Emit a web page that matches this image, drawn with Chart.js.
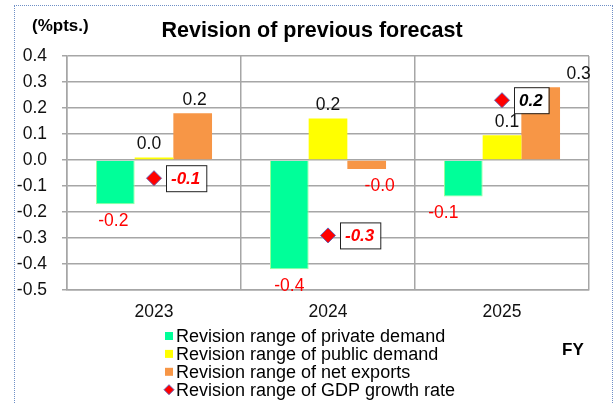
<!DOCTYPE html>
<html>
<head>
<meta charset="utf-8">
<script src="https://cdn.jsdelivr.net/npm/chart.js@4"></script>
<style>
    html, body { margin: 0; padding: 0; background: #fff; }
    #wrap { position: relative; width: 614px; height: 403px; overflow: hidden; }
    #frame {
        position: absolute; left: 14px; top: 5px; width: 597px; height: 420px;
        border: 1px dotted #6f8fc6; pointer-events: none;
    }
</style>
</head>
<body>
<div id="wrap">
    <canvas id="revisionChart" width="614" height="403"></canvas>
    <div id="frame"></div>
</div>
<script>
// Data
const categories = ['2023', '2024', '2025'];
const privateDemand = [-0.17, -0.42, -0.14];
const publicDemand = [0.01, 0.16, 0.095];
const netExports = [0.18, -0.035, 0.28];
const gdpGrowth = [-0.07, -0.29, 0.23];
const yTicks = [0.4, 0.3, 0.2, 0.1, 0.0, -0.1, -0.2, -0.3, -0.4, -0.5];

const FONT = "'Liberation Sans', Arial, sans-serif";

// nudges for the bar value labels (Excel moved a few of them sideways)
const labelShift = [
    [-2, 0, -20],
    [-5, 0, 5],
    [2, 13, 38]
];

const fmt = v => (Math.round(v * 10) / 10).toFixed(1).replace(/^0\.0$/, '0.0');

const decorPlugin = {
    id: 'decor',
    afterDatasetsDraw(chart) {
        const ctx = chart.ctx;
        ctx.save();

        // value labels on the bars
        ctx.font = '17.5px ' + FONT;
        ctx.textAlign = 'center';
        ctx.textBaseline = 'middle';
        [0, 1, 2].forEach(di => {
            const meta = chart.getDatasetMeta(di);
            const values = chart.data.datasets[di].data;
            meta.data.forEach((bar, i) => {
                const v = values[i];
                const x = bar.x + labelShift[di][i];
                if (v >= 0) {
                    ctx.fillStyle = '#111';
                    ctx.fillText(v.toFixed(1), x, bar.y - 13);
                } else {
                    ctx.fillStyle = '#ff0000';
                    ctx.fillText(v.toFixed(1), x, bar.y + 17);
                }
            });
        });

        // boxed GDP labels
        const gMeta = chart.getDatasetMeta(3);
        ctx.font = 'italic bold 17px ' + FONT;
        ctx.textAlign = 'left';
        gMeta.data.forEach((pt, i) => {
            const v = gdpGrowth[i];
            const txt = v.toFixed(1);
            const w = ctx.measureText(txt).width + 11;
            const left = pt.x + 12;
            const top = pt.y - 13;
            ctx.fillStyle = '#fff';
            ctx.fillRect(left, top, w, 26);
            ctx.strokeStyle = '#222';
            ctx.lineWidth = 1;
            ctx.strokeRect(left + 0.5, top + 0.5, w, 26);
            ctx.fillStyle = v < 0 ? '#ff0000' : '#000';
            ctx.fillText(txt, left + 5, pt.y + 1);
        });

        // title, unit and FY
        ctx.fillStyle = '#000';
        ctx.textBaseline = 'alphabetic';
        ctx.font = 'bold 21.5px ' + FONT;
        ctx.textAlign = 'center';
        ctx.fillText('Revision of previous forecast', 312, 37);
        ctx.font = 'bold 17px ' + FONT;
        ctx.textAlign = 'left';
        ctx.fillText('(%pts.)', 32, 31);
        ctx.fillText('FY', 562, 355);

        // legend
        ctx.font = '18px ' + FONT;
        ctx.textBaseline = 'middle';
        chart.data.datasets.forEach((ds, i) => {
            const y = 336 + i * 17.9;
            if (ds.type === 'line') {
                ctx.beginPath();
                ctx.moveTo(169, y - 5);
                ctx.lineTo(174, y);
                ctx.lineTo(169, y + 5);
                ctx.lineTo(164, y);
                ctx.closePath();
                ctx.fillStyle = ds.backgroundColor;
                ctx.fill();
                ctx.strokeStyle = ds.borderColor;
                ctx.stroke();
            } else {
                ctx.fillStyle = ds.backgroundColor;
                ctx.fillRect(165, y - 4, 8, 8);
            }
            ctx.fillStyle = '#000';
            ctx.fillText(ds.label, 176, y + 1);
        });

        ctx.restore();
    }
};

const ctx = document.getElementById('revisionChart').getContext('2d');
new Chart(ctx, {
    type: 'bar',
    data: {
        labels: categories,
        datasets: [
            {
                label: 'Revision range of private demand',
                data: privateDemand,
                backgroundColor: '#00ff99',
                borderColor: '#99ff99',
                borderWidth: 1,
                order: 2
            },
            {
                label: 'Revision range of public demand',
                data: publicDemand,
                backgroundColor: '#ffff00',
                borderWidth: 0,
                order: 2
            },
            {
                label: 'Revision range of net exports',
                data: netExports,
                backgroundColor: '#f79646',
                borderWidth: 0,
                order: 2
            },
            {
                type: 'line',
                label: 'Revision range of GDP growth rate',
                data: gdpGrowth,
                showLine: false,
                pointStyle: 'rectRot',
                pointRadius: 7.5,
                backgroundColor: '#ff0000',
                borderColor: '#6a5fb0',
                borderWidth: 1,
                order: 0
            }
        ]
    },
    options: {
        responsive: false,
        animation: false,
        categoryPercentage: 0.667,
        barPercentage: 1,
        layout: {
            padding: { top: 56, right: 25, left: 0, bottom: 0 }
        },
        plugins: {
            legend: { display: false },
            title: { display: false },
            tooltip: { enabled: false }
        },
        scales: {
            x: {
                grid: {
                    offset: true,
                    color: '#a6a6a6',
                    lineWidth: 1.5,
                    drawTicks: false
                },
                border: { color: '#a6a6a6', width: 1.5 },
                ticks: {
                    font: { family: FONT, size: 17.5 },
                    color: '#111',
                    padding: 12
                },
                afterFit: scale => { scale.height = 113; }
            },
            y: {
                min: -0.5,
                max: 0.4,
                afterBuildTicks: scale => {
                    scale.ticks = yTicks.map(v => ({ value: v }));
                },
                grid: {
                    color: '#a6a6a6',
                    lineWidth: 1.5,
                    tickLength: 5
                },
                border: { color: '#a6a6a6', width: 1.5 },
                ticks: {
                    font: { family: FONT, size: 17.5 },
                    color: '#111',
                    padding: 15,
                    callback: v => fmt(v)
                },
                afterFit: scale => { scale.width = 67; }
            }
        }
    },
    plugins: [decorPlugin]
});
</script>
</body>
</html>
